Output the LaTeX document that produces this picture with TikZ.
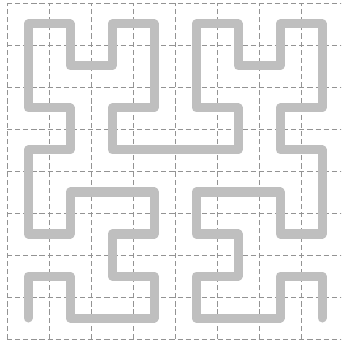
\documentclass[tikz,border=0pt]{standalone}
\begin{document}
\begin{tikzpicture}[
    gridline/.style={draw=gray!85, line width=0.5pt, dash pattern=on 3.5pt off 2pt},
    curve/.style={draw=gray!50, line width=6.1pt, line cap=round, line join=round}
  ]
  % 8 x 8 cells, one unit per cell
  \useasboundingbox (-0.167,-0.095) rectangle (7.952,8.071);
  \clip (-0.167,-0.095) rectangle (7.952,8.071);
  \foreach \i in {0,...,8} {
    \draw[gridline] (\i,0) -- (\i,8);
    \draw[gridline] (0,\i) -- (8,\i);
  }
  % order 3 curve through the cell centres
  \begin{scope}[shift={(0.5,0.5)}]
    \draw[curve]
      (0,0) -- (0,1) -- (1,1) -- (1,0) -- (2,0) -- (3,0) -- (3,1) -- (2,1) --
      (2,2) -- (3,2) -- (3,3) -- (2,3) -- (1,3) -- (1,2) -- (0,2) -- (0,3) --
      (0,4) -- (1,4) -- (1,5) -- (0,5) -- (0,6) -- (0,7) -- (1,7) -- (1,6) --
      (2,6) -- (2,7) -- (3,7) -- (3,6) -- (3,5) -- (2,5) -- (2,4) -- (3,4) --
      (4,4) -- (5,4) -- (5,5) -- (4,5) -- (4,6) -- (4,7) -- (5,7) -- (5,6) --
      (6,6) -- (6,7) -- (7,7) -- (7,6) -- (7,5) -- (6,5) -- (6,4) -- (7,4) --
      (7,3) -- (7,2) -- (6,2) -- (6,3) -- (5,3) -- (4,3) -- (4,2) -- (5,2) --
      (5,1) -- (4,1) -- (4,0) -- (5,0) -- (6,0) -- (6,1) -- (7,1) -- (7,0);
  \end{scope}
\end{tikzpicture}
\end{document}
